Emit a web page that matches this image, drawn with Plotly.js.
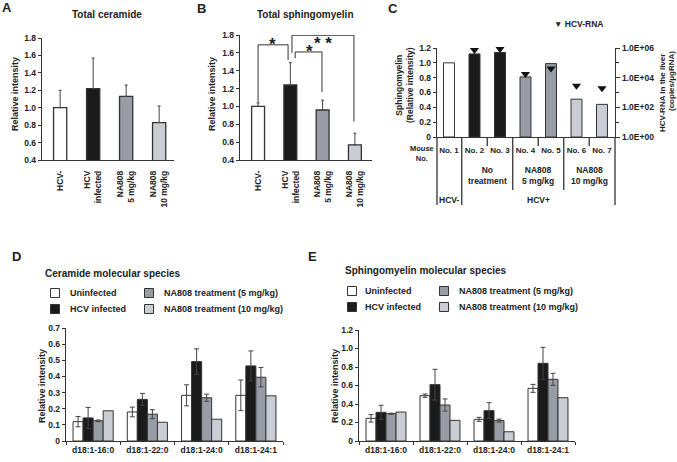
<!DOCTYPE html>
<html><head><meta charset="utf-8">
<script src="https://cdn.plot.ly/plotly-3.0.1.min.js"></script>
<style>html,body{margin:0;padding:0;background:#fff}#chart{width:677px;height:462px}</style>
</head><body><div id="chart"></div>
<script>
// ---------------- data ----------------
const totalGroups = ["HCV-", "HCV<br>infected", "NA808<br>5 mg/kg", "NA808<br>10 mg/kg"];
const ceramideTotal = [1.00, 1.22, 1.13, 0.83];
const ceramideTotalErr = [0.20, 0.35, 0.13, 0.19];
const sphingoTotal = [1.00, 1.24, 0.96, 0.57];
const sphingoTotalErr = [0.04, 0.25, 0.11, 0.13];

const mice = ["No. 1", "No. 2", "No. 3", "No. 4", "No. 5", "No. 6", "No. 7"];
const mouseSM = [1.00, 1.12, 1.14, 0.81, 0.99, 0.51, 0.44];
const rnaMice = ["No. 2", "No. 3", "No. 4", "No. 5", "No. 6", "No. 7"];
const hcvRNA = [7.4e5, 8.6e5, 1.8e4, 4.2e4, 2.8e3, 1.9e3];

const species = ["d18:1-16:0", "d18:1-22:0", "d18:1-24:0", "d18:1-24:1"];
const seriesNames = ["Uninfected", "HCV infected", "NA808 treatment (5 mg/kg)", "NA808 treatment (10 mg/kg)"];
const cerUninf = [0.12, 0.18, 0.283, 0.283];
const cerUninfErr = [0.032, 0.03, 0.065, 0.095];
const cerHCV = [0.143, 0.258, 0.492, 0.465];
const cerHCVErr = [0.065, 0.037, 0.079, 0.093];
const cer5 = [0.125, 0.166, 0.268, 0.395];
const cer5Err = [0.005, 0.028, 0.022, 0.06];
const cer10 = [0.187, 0.116, 0.135, 0.28];
const smUninf = [0.245, 0.49, 0.234, 0.569];
const smUninfErr = [0.04, 0.018, 0.022, 0.043];
const smHCV = [0.31, 0.609, 0.328, 0.84];
const smHCVErr = [0.076, 0.166, 0.086, 0.173];
const sm5 = [0.295, 0.389, 0.22, 0.667];
const sm5Err = [0.006, 0.066, 0.016, 0.065];
const sm10 = [0.313, 0.223, 0.10, 0.468];

const abTickVals = [0.4, 0.6, 0.8, 1.0, 1.2, 1.4, 1.6, 1.8];
const cTickVals = [0, 0.2, 0.4, 0.6, 0.8, 1.0, 1.2];
const cTickText = ["0", "0.2", "0.4", "0.6", "0.8", "1.0", "1.2"];
const rnaTickVals = [1, 1e2, 1e4, 1e6];
const rnaTickText = ["1.0E+00", "1.0E+02", "1.0E+04", "1.0E+06"];
const rnaMinor = [10, 1e3, 1e5];
const dTickVals = [0, 0.1, 0.2, 0.3, 0.4, 0.5, 0.6, 0.7];
const dTickText = ["0", "0.1", "0.2", "0.3", "0.4", "0.5", "0.6", "0.7"];

// ---------------- style ----------------
const W = 677, H = 462;
const px = v => v / W;
const py = v => 1 - v / H;
const F = "Liberation Sans, Arial, sans-serif";
const INK = "#222";
const LINE = "#333";
const WHITE = "#ffffff", BLACK = "#1b1b1b", GRAY = "#979ca5", LIGHT = "#cacdd3";
const tf = (s) => ({family: F, size: s, color: INK, weight: "bold"});

const axBase = {showgrid: false, zeroline: false, showline: true, linecolor: LINE, linewidth: 1.3,
  tickcolor: LINE, tickfont: tf(8.5), fixedrange: true};

const errUp = (arr) => ({type: "data", symmetric: false, array: arr, arrayminus: arr.map(() => 0),
  color: "#444", thickness: 1, width: 1.5});
const errSym = (arr) => ({type: "data", array: arr, color: "#444", thickness: 1, width: 2.5});

const traces = [];
traces.push({type: "bar", x: totalGroups, y: ceramideTotal, xaxis: "x", yaxis: "y", width: 0.4,
  marker: {color: [WHITE, BLACK, GRAY, LIGHT], line: {color: LINE, width: 1.3}},
  error_y: errUp(ceramideTotalErr), showlegend: false});
traces.push({type: "bar", x: totalGroups, y: sphingoTotal, xaxis: "x2", yaxis: "y2", width: 0.4,
  marker: {color: [WHITE, BLACK, GRAY, LIGHT], line: {color: LINE, width: 1.3}},
  error_y: errUp(sphingoTotalErr), showlegend: false});
traces.push({type: "bar", x: mice, y: mouseSM, xaxis: "x3", yaxis: "y3", width: 0.43,
  marker: {color: [WHITE, BLACK, BLACK, GRAY, GRAY, LIGHT, LIGHT], line: {color: LINE, width: 1}},
  showlegend: false});
traces.push({type: "scatter", mode: "markers", x: rnaMice, y: hcvRNA, xaxis: "x3", yaxis: "y4",
  marker: {symbol: "triangle-down", size: 8, color: "#111"}, showlegend: false, cliponaxis: false});

const dSeries = [[cerUninf, cerUninfErr, WHITE], [cerHCV, cerHCVErr, BLACK], [cer5, cer5Err, GRAY], [cer10, null, LIGHT]];
const eSeries = [[smUninf, smUninfErr, WHITE], [smHCV, smHCVErr, BLACK], [sm5, sm5Err, GRAY], [sm10, null, LIGHT]];
dSeries.forEach((s, i) => traces.push({type: "bar", name: seriesNames[i], x: species, y: s[0], xaxis: "x5", yaxis: "y5",
  marker: {color: s[2], line: {color: LINE, width: 1}}, error_y: s[1] ? errSym(s[1]) : {visible: false}, showlegend: false}));
eSeries.forEach((s, i) => traces.push({type: "bar", name: seriesNames[i], x: species, y: s[0], xaxis: "x6", yaxis: "y6",
  marker: {color: s[2], line: {color: LINE, width: 1}}, error_y: s[1] ? errSym(s[1]) : {visible: false}, showlegend: false}));

// ---------------- shapes ----------------
const shapes = [];
const seg = (xref, yref, x0, y0, x1, y1) => shapes.push({type: "line", xref, yref, x0, y0, x1, y1, line: {color: LINE, width: 1}});
// significance brackets (panel B)
seg("x2", "y2", 0, 1.05, 0, 1.69); seg("x2", "y2", 0, 1.69, 0.93, 1.69); seg("x2", "y2", 0.93, 1.69, 0.93, 1.52);
seg("x2", "y2", 1.05, 1.60, 1.05, 1.797); seg("x2", "y2", 1.05, 1.797, 2.97, 1.797); seg("x2", "y2", 2.97, 1.797, 2.97, 0.83);
seg("x2", "y2", 1.15, 1.61, 1.15, 1.54); seg("x2", "y2", 1.15, 1.61, 1.98, 1.61); seg("x2", "y2", 1.98, 1.61, 1.98, 1.16);
// table lines under panel C
const tl = (xref, x, yb) => shapes.push({type: "line", xref, yref: "paper", x0: x, x1: x, y0: py(137), y1: py(yb), line: {color: LINE, width: 1.3}});
tl("x3 domain", 0, 205); tl("x3 domain", 1, 205);
tl("x3", 0.5, 205); tl("x3", 1.5, 146); tl("x3", 2.5, 190); tl("x3", 3.5, 146); tl("x3", 4.5, 190); tl("x3", 5.5, 146);
// legend swatches D / E
const sw = (cx, cy, col) => shapes.push({type: "rect", xref: "paper", yref: "paper",
  x0: px(cx - 4.5), x1: px(cx + 4.5), y0: py(cy + 4.5), y1: py(cy - 4.5), fillcolor: col, line: {color: LINE, width: 1}});
const swCols = [WHITE, BLACK, GRAY, LIGHT];
sw(55, 293, swCols[0]); sw(55, 309, swCols[1]); sw(149, 293, swCols[2]); sw(149, 309, swCols[3]);
sw(352, 291, swCols[0]); sw(352, 307, swCols[1]); sw(444, 291, swCols[2]); sw(444, 307, swCols[3]);

// ---------------- annotations ----------------
const ann = [];
const A = (text, x, y, o) => ann.push(Object.assign({text, x: px(x), y: py(y), xref: "paper", yref: "paper",
  showarrow: false, xanchor: "center", yanchor: "middle", font: tf(9)}, o || {}));
A("A", 7, 8, {font: tf(13)}); A("B", 201, 9, {font: tf(13)}); A("C", 393, 9, {font: tf(13)});
A("D", 16, 256, {font: tf(13)}); A("E", 312, 256, {font: tf(13)});
A("Total ceramide", 107, 15, {font: tf(10)});
A("Total sphingomyelin", 305, 15, {font: tf(10)});
A("Relative intensity", 15, 94, {textangle: -90});
A("Relative intensity", 212, 94, {textangle: -90});
A("Sphingomyelin<br>(Relative intensity)", 405, 85, {textangle: -90, font: tf(8.5)});
A("HCV-RNA in the liver", 662, 93, {textangle: -90, font: tf(8)});
A("(copies/μgRNA)", 671, 81, {textangle: -90, font: tf(8)});
A("▼ HCV-RNA", 552, 24, {xanchor: "left", font: tf(8.5)});
A("Mouse<br>No.", 422, 153, {font: tf(7.5)});
A("HCV-", 0, 200, {xref: "x3", x: 0, font: tf(8.5)});
A("HCV+", 0, 200, {xref: "x3", x: 3.5, font: tf(8.5)});
A("No<br>treatment", 0, 175, {xref: "x3", x: 1.5, font: tf(8.5)});
A("NA808<br>5 mg/kg", 0, 175, {xref: "x3", x: 3.5, font: tf(8.5)});
A("NA808<br>10 mg/kg", 0, 175, {xref: "x3", x: 5.5, font: tf(8.5)});
A("Ceramide molecular species", 43, 273, {xanchor: "left", font: tf(10)});
A("Sphingomyelin molecular species", 343, 270, {xanchor: "left", font: tf(10)});
A("Relative intensity", 42, 386, {textangle: -90});
A("Relative intensity", 335, 386, {textangle: -90});
A(seriesNames[0], 68, 293, {xanchor: "left"}); A(seriesNames[1], 68, 309, {xanchor: "left"});
A(seriesNames[2], 162, 293, {xanchor: "left"}); A(seriesNames[3], 162, 309, {xanchor: "left"});
A(seriesNames[0], 363, 291, {xanchor: "left"}); A(seriesNames[1], 363, 307, {xanchor: "left"});
A(seriesNames[2], 457, 291, {xanchor: "left"}); A(seriesNames[3], 457, 307, {xanchor: "left"});
// significance stars
const starFont = {family: F, size: 17, color: INK, weight: "bold"};
const star = (t, x, y) => ann.push({text: t, x, y, xref: "x2", yref: "y2", showarrow: false, yshift: -4, font: starFont});
star("*", 0.46, 1.74); star("*", 1.6, 1.665);
ann.push({text: "* *", x: 2.0, xref: "x2", y: py(32), yref: "paper", showarrow: false, font: starFont});

const layout = {
  width: W, height: H, margin: {l: 0, r: 0, t: 0, b: 0}, paper_bgcolor: "#fff", plot_bgcolor: "#fff",
  barmode: "group", bargap: 0.26, bargroupgap: 0, hovermode: false, showlegend: false,
  font: {family: F, color: INK},
  xaxis: Object.assign({}, axBase, {domain: [px(42), px(174)], anchor: "y", range: [-0.55, 3.45], ticks: "", tickangle: -90, ticklabelstandoff: 6}),
  yaxis: Object.assign({}, axBase, {domain: [py(160), py(38)], anchor: "x", range: [0.4, 1.8], tickvals: abTickVals, tickformat: ".1f", ticks: "outside", ticklen: 3}),
  xaxis2: Object.assign({}, axBase, {domain: [px(240), px(372)], anchor: "y2", range: [-0.56, 3.53], ticks: "", tickangle: -90, ticklabelstandoff: 6}),
  yaxis2: Object.assign({}, axBase, {domain: [py(160), py(35)], anchor: "x2", range: [0.4, 1.8], tickvals: abTickVals, tickformat: ".1f", ticks: "outside", ticklen: 3}),
  xaxis3: Object.assign({}, axBase, {domain: [px(437), px(615)], anchor: "y3", range: [-0.47, 6.51], ticks: "", tickfont: tf(8), ticklabelstandoff: 5}),
  yaxis3: Object.assign({}, axBase, {domain: [py(137), py(48)], anchor: "x3", range: [0, 1.2], tickvals: cTickVals, ticktext: cTickText, ticks: "outside", ticklen: 3}),
  yaxis4: Object.assign({}, axBase, {domain: [py(137), py(48)], anchor: "x3", overlaying: "y3", side: "right", type: "log", range: [0, 6],
    tickvals: rnaTickVals, ticktext: rnaTickText, ticks: "outside", ticklen: 4,
    minor: {tickvals: rnaMinor, ticks: "outside", ticklen: 3, tickcolor: LINE, showgrid: false}}),
  xaxis5: Object.assign({}, axBase, {domain: [px(66), px(283)], anchor: "y5", range: [-0.5, 3.5], ticks: "outside", tickson: "boundaries", ticklen: 3, tickfont: tf(8.5)}),
  yaxis5: Object.assign({}, axBase, {domain: [py(441), py(328)], anchor: "x5", range: [0, 0.7], tickvals: dTickVals, ticktext: dTickText, ticks: "outside", ticklen: 3}),
  xaxis6: Object.assign({}, axBase, {domain: [px(359), px(575)], anchor: "y6", range: [-0.5, 3.5], ticks: "outside", tickson: "boundaries", ticklen: 3, tickfont: tf(8.5)}),
  yaxis6: Object.assign({}, axBase, {domain: [py(441), py(330)], anchor: "x6", range: [0, 1.2], tickvals: cTickVals, ticktext: cTickText, ticks: "outside", ticklen: 3}),
  shapes, annotations: ann
};
Plotly.newPlot("chart", traces, layout, {staticPlot: true, displayModeBar: false});
</script></body></html>
